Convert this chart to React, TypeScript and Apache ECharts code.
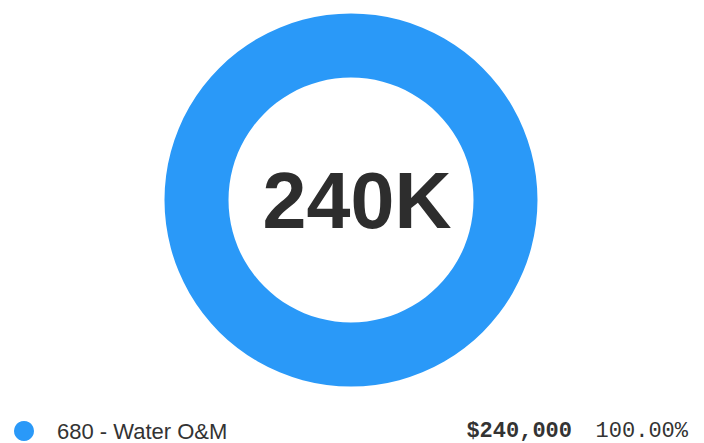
import React, { useEffect, useRef } from "react";
import * as echarts from "echarts";

const categories = ["680 - Water O&M"];
const values = [240000];
const colors = ["#2A99F8"];
const centerLabel = "240K";

function fmtMoney(v: number) {
  return "$" + v.toLocaleString("en-US");
}

export default function App() {
  const ref = useRef<HTMLDivElement>(null);
  useEffect(() => {
    document.body.style.margin = "0";
    const chart = echarts.init(ref.current!, null, { renderer: "svg" });
    const total = values.reduce((a, b) => a + b, 0);
    const data = categories.map((name, i) => ({ name, value: values[i], itemStyle: { color: colors[i] } }));
    chart.setOption({
      animation: false,
      legend: {
        show: true,
        orient: "vertical",
        left: 14,
        top: 420,
        padding: 0,
        icon: "circle",
        itemWidth: 20,
        itemHeight: 20,
        selectedMode: false,
        formatter: (name: string) => {
          const i = categories.indexOf(name);
          const v = values[i];
          const pct = ((v / total) * 100).toFixed(2) + "%";
          return `{name|${name}}{val|${fmtMoney(v)}}{pct|${pct}}`;
        },
        textStyle: {
          rich: {
            name: {
              fontFamily: "Liberation Sans, Arial, sans-serif",
              fontSize: 22,
              color: "#333333",
              width: 400,
              padding: [0, 0, 0, 18],
              lineHeight: 22,
            },
            val: {
              fontFamily: "Liberation Mono, monospace",
              fontSize: 22,
              fontWeight: "bold",
              color: "#333333",
              width: 115,
              align: "right",
              lineHeight: 22,
            },
            pct: {
              fontFamily: "Liberation Mono, monospace",
              fontSize: 22,
              color: "#333333",
              width: 116,
              align: "right",
              lineHeight: 22,
            },
          },
        },
      },
      series: [
        {
          type: "pie",
          center: [351, 200],
          radius: [122.5, 186.5],
          silent: true,
          startAngle: 90,
          label: {
            show: true,
            position: "center",
            formatter: () => centerLabel,
            fontFamily: "Liberation Sans, Arial, sans-serif",
            fontSize: 79,
            fontWeight: "bold",
            color: "#2D2D2D",
            padding: [0, 0, 0, 12],
          },
          labelLine: { show: false },
          data,
        },
      ],
    });
    return () => chart.dispose();
  }, []);
  return <div ref={ref} style={{ width: 704, height: 443, position: "absolute", left: 0, top: 0 }} />;
}
